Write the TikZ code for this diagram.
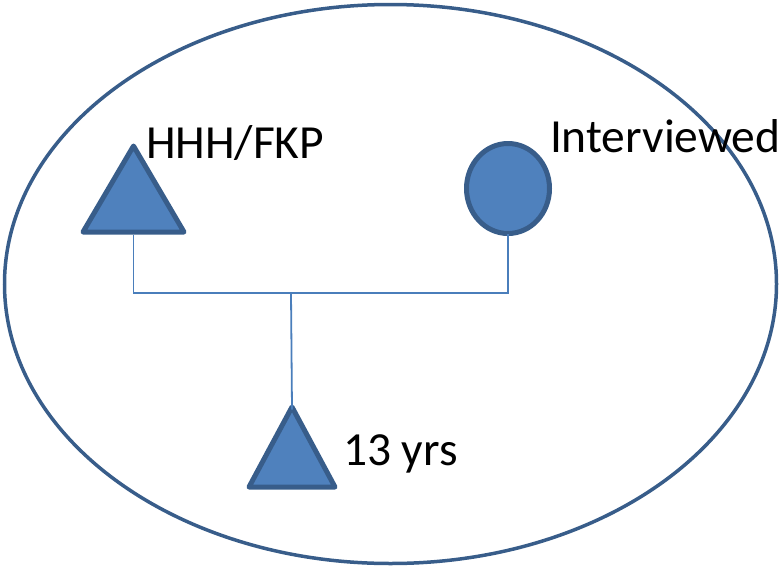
\documentclass[tikz,border=0pt]{standalone}
\usepackage{fontspec}
\setmainfont{Carlito}
\usetikzlibrary{shapes.geometric}
\definecolor{shapefill}{HTML}{4F81BD}
\definecolor{shapeline}{HTML}{385D8A}
\definecolor{connline}{HTML}{4A7EBB}
\tikzset{
  sym/.style={fill=shapefill, draw=shapeline, line width=5pt, line join=round},
  box/.style={rectangle, inner sep=0pt, outer sep=0pt, draw=none},
  conn/.style={draw=connline, line width=1.8pt},
  lbl/.style={inner sep=0pt, outer sep=0pt, anchor=base west, font=\fontsize{47.5}{52}\selectfont, text=black}
}
\begin{document}
\begin{tikzpicture}[x=1pt,y=-1pt]
\useasboundingbox (0,0) rectangle (782,568);
% outer ellipse
\node[ellipse, draw=shapeline, line width=3.5pt, minimum width=772pt, minimum height=559pt, inner sep=0pt] (outer) at (390.5,284) {};
% triangle 1
\node[box, minimum width=101pt, minimum height=86pt] (t1) at (133.5,189) {};
\draw[sym] (t1.south west) -- (t1.north) -- (t1.south east) -- cycle;
% circle
\node[ellipse, sym, minimum width=83pt, minimum height=90pt, inner sep=0pt] (c1) at (508,188.5) {};
% triangle 2
\node[box, minimum width=86pt, minimum height=80pt] (t2) at (292,447) {};
\draw[sym] (t2.south west) -- (t2.north) -- (t2.south east) -- cycle;
% connectors
\coordinate (j) at (291,293);
\draw[conn] (t1.south) ++(0,2.5) |- (c1.south |- j) -- ([yshift=2.5pt]c1.south);
\draw[conn] (j) -- ([yshift=-2.5pt]t2.north);
% labels
\node[lbl] (l1) at (146,158) {HHH/FKP};
\node[lbl] (l2) at (550,152) {Interviewed};
\node[lbl] (l3) at (343,465) {13 yrs};
\end{tikzpicture}
\end{document}
